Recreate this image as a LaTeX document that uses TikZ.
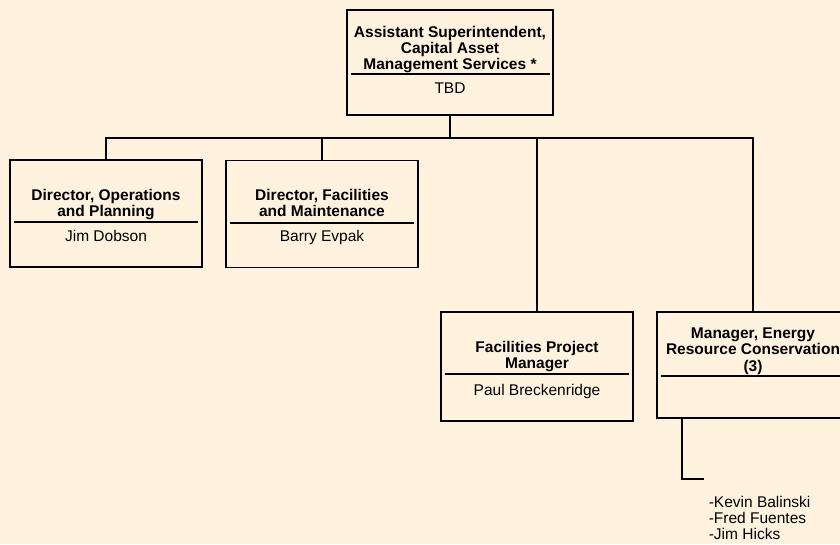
\documentclass[tikz,border=0pt]{standalone}
\usepackage{fontspec}
\setmainfont{Liberation Sans}
\usetikzlibrary{positioning}
\definecolor{paper}{RGB}{255,243,224}

\tikzstyle{post} = [draw, line width=1.6pt, minimum width=192pt, minimum height=107pt, inner sep=0pt]
\tikzstyle{title} = [font=\fontsize{15.5}{16.3}\selectfont\bfseries, align=center, anchor=north, inner sep=0pt]
\tikzstyle{holder} = [font=\fontsize{15.5}{16.3}\selectfont, align=center, anchor=north, inner sep=0pt]

\begin{document}
\begin{tikzpicture}[x=1pt, y=-1pt, line width=1.6pt]
	\clip (0,0) rectangle (840,544);
	\fill[paper] (0,0) rectangle (840,544);
	% boxes
	\node[post, minimum width=206pt, minimum height=105pt] (cams) at (450,62.5) {};
	\node[post] (ops) at (106,213.5) {};
	\node[post] (fac) at (322,214) {};
	\node[post, minimum height=109pt] (fpm) at (537,366.5) {};
	\node[post, minimum height=106pt] (erc) at (753,365) {};
	% titles
	\node[title] (camst) at (450,25) {Assistant Superintendent,\\Capital Asset\\Management Services *};
	\node[title] (opst) at (106,188) {Director, Operations\\and Planning};
	\node[title] (fact) at (322,188) {Director, Facilities\\and Maintenance};
	\node[title] (fpmt) at (537,340) {Facilities Project\\Manager};
	\node[title] (erct) at (753,327) {Manager, Energy\\Resource Conservation\\(3)};
	% dividers
	\draw ([xshift=5pt,yshift=-65pt]cams.north west) -- ([xshift=-4pt,yshift=-65pt]cams.north east);
	\draw ([xshift=5pt,yshift=-63pt]ops.north west) -- ([xshift=-5pt,yshift=-63pt]ops.north east);
	\draw ([xshift=5pt,yshift=-63pt]fac.north west) -- ([xshift=-5pt,yshift=-63pt]fac.north east);
	\draw ([xshift=5pt,yshift=-63pt]fpm.north west) -- ([xshift=-5pt,yshift=-63pt]fpm.north east);
	\draw ([xshift=5pt,yshift=-65pt]erc.north west) -- ([xshift=-5pt,yshift=-65pt]erc.north east);
	% names
	\node[holder] (camsn) at (450,82) {TBD};
	\node[holder] (opsn) at (106,229) {Jim Dobson};
	\node[holder] (facn) at (322,229) {Barry Evpak};
	\node[holder] (fpmn) at (537,383) {Paul Breckenridge};
	\node[holder, align=left, anchor=north west] (ercstaff) at (708,495) {-Kevin Balinski\\-Fred Fuentes\\-Jim Hicks};
	% connectors
	\coordinate (bus) at (450,138);
	\coordinate (staffbend) at (682,479);
	\coordinate (staffend) at (704,479);
	\draw (cams.south) -- (bus);
	\draw (ops.north) |- (bus) -| (erc.north);
	\draw (fac.north) -- (fac.north |- bus);
	\draw (fpm.north) -- (fpm.north |- bus);
	\draw (erc.south -| staffbend) -- (staffbend) -- (staffend);
\end{tikzpicture}
\end{document}
